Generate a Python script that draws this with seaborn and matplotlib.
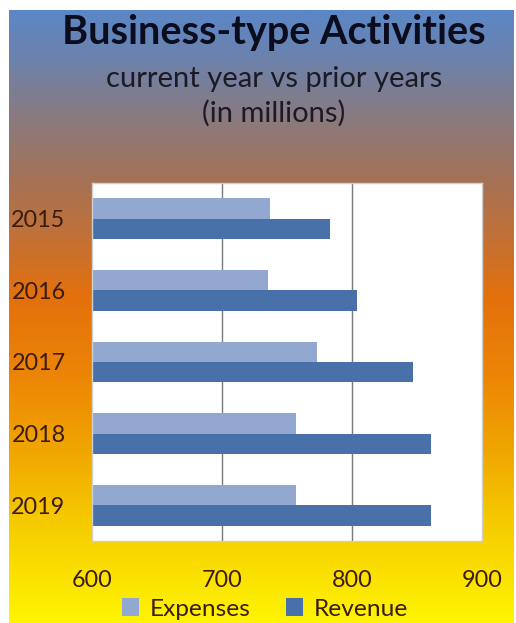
import numpy as np
import pandas as pd
import matplotlib
matplotlib.use("Agg")
import matplotlib.pyplot as plt
from matplotlib.colors import LinearSegmentedColormap
import seaborn as sns

# Values in millions
years = ["2015", "2016", "2017", "2018", "2019"]
expenses = [737, 735, 773, 757, 757]
revenue = [783, 804, 847, 861, 861]
series_names = ["Expenses", "Revenue"]
x_ticks = [600, 700, 800, 900]

df = pd.DataFrame({
    "year": years * 2,
    "kind": [series_names[0]] * len(years) + [series_names[1]] * len(years),
    "value": expenses + revenue,
})

sns.set_theme(style="white")
plt.rcParams["font.family"] = ["Lato", "DejaVu Sans"]

W, H = 516, 623
fig = plt.figure(figsize=(W / 100, H / 100), dpi=100, facecolor="white")

# Vertical backdrop: slate blue -> brown -> orange -> yellow
stops = [
    (0.00, "#5b87c6"),
    (0.08, "#6d82ab"),
    (0.18, "#8b7a7c"),
    (0.27, "#a37259"),
    (0.36, "#bf713a"),
    (0.47, "#e4700c"),
    (0.60, "#ec8606"),
    (0.72, "#f0a600"),
    (0.84, "#f6cc00"),
    (1.00, "#fff400"),
]
grad_cmap = LinearSegmentedColormap.from_list("backdrop", stops)
bg = fig.add_axes([9 / W, 0, (514 - 9) / W, (H - 10) / H], zorder=-10)
bg.imshow(np.linspace(0, 1, 512).reshape(-1, 1), cmap=grad_cmap,
          aspect="auto", extent=[0, 1, 0, 1], origin="upper")
bg.set_axis_off()

ax = fig.add_axes([92 / W, 1 - 541 / H, (482 - 92) / W, (541 - 183) / H])
ax.set_facecolor("white")

palette = {"Expenses": "#93a8d1", "Revenue": "#4870a9"}
sns.barplot(data=df, x="value", y="year", hue="kind", order=years,
            hue_order=series_names, palette=palette, orient="h",
            width=0.57, saturation=1, linewidth=0, ax=ax)

ax.set_xlim(x_ticks[0], x_ticks[-1])
ax.set_xticks(x_ticks)
ax.set_xlabel("")
ax.set_ylabel("")
ax.grid(axis="x", color="#7a7a7a", linewidth=1.0)
ax.grid(axis="y", visible=False)
ax.set_axisbelow(True)
gl = ax.get_xgridlines()
gl[0].set_visible(False)
gl[-1].set_visible(False)
for sp in ax.spines.values():
    sp.set_color("#cfcfcf")
    sp.set_linewidth(1.0)

label_color = "#3a1c10"
ax.tick_params(axis="y", length=0, pad=19, labelsize=16.8, labelcolor=label_color)
ax.tick_params(axis="x", length=0, pad=21, labelsize=16.8, labelcolor=label_color)

handles, labels = ax.get_legend_handles_labels()
ax.get_legend().remove()
fig.legend(handles, labels, loc="center", bbox_to_anchor=(265 / W, 1 - 609 / H),
           ncol=2, frameon=False, fontsize=17.6, handlelength=0.7,
           handleheight=0.7, handletextpad=0.45, columnspacing=1.45,
           labelcolor=label_color)

cx = 274 / W
fig.text(cx, 1 - 44 / H, "Business-type Activities", ha="center", va="baseline",
         fontsize=28.5, fontweight="bold", color="#0b0c1e")
fig.text(cx, 1 - 87 / H, "current year vs prior years", ha="center", va="baseline",
         fontsize=21, color="#1c1a24")
fig.text(cx, 1 - 122 / H, "(in millions)", ha="center", va="baseline",
         fontsize=21, color="#1c1a24")

fig.savefig("out.png", dpi=100, facecolor="white")
